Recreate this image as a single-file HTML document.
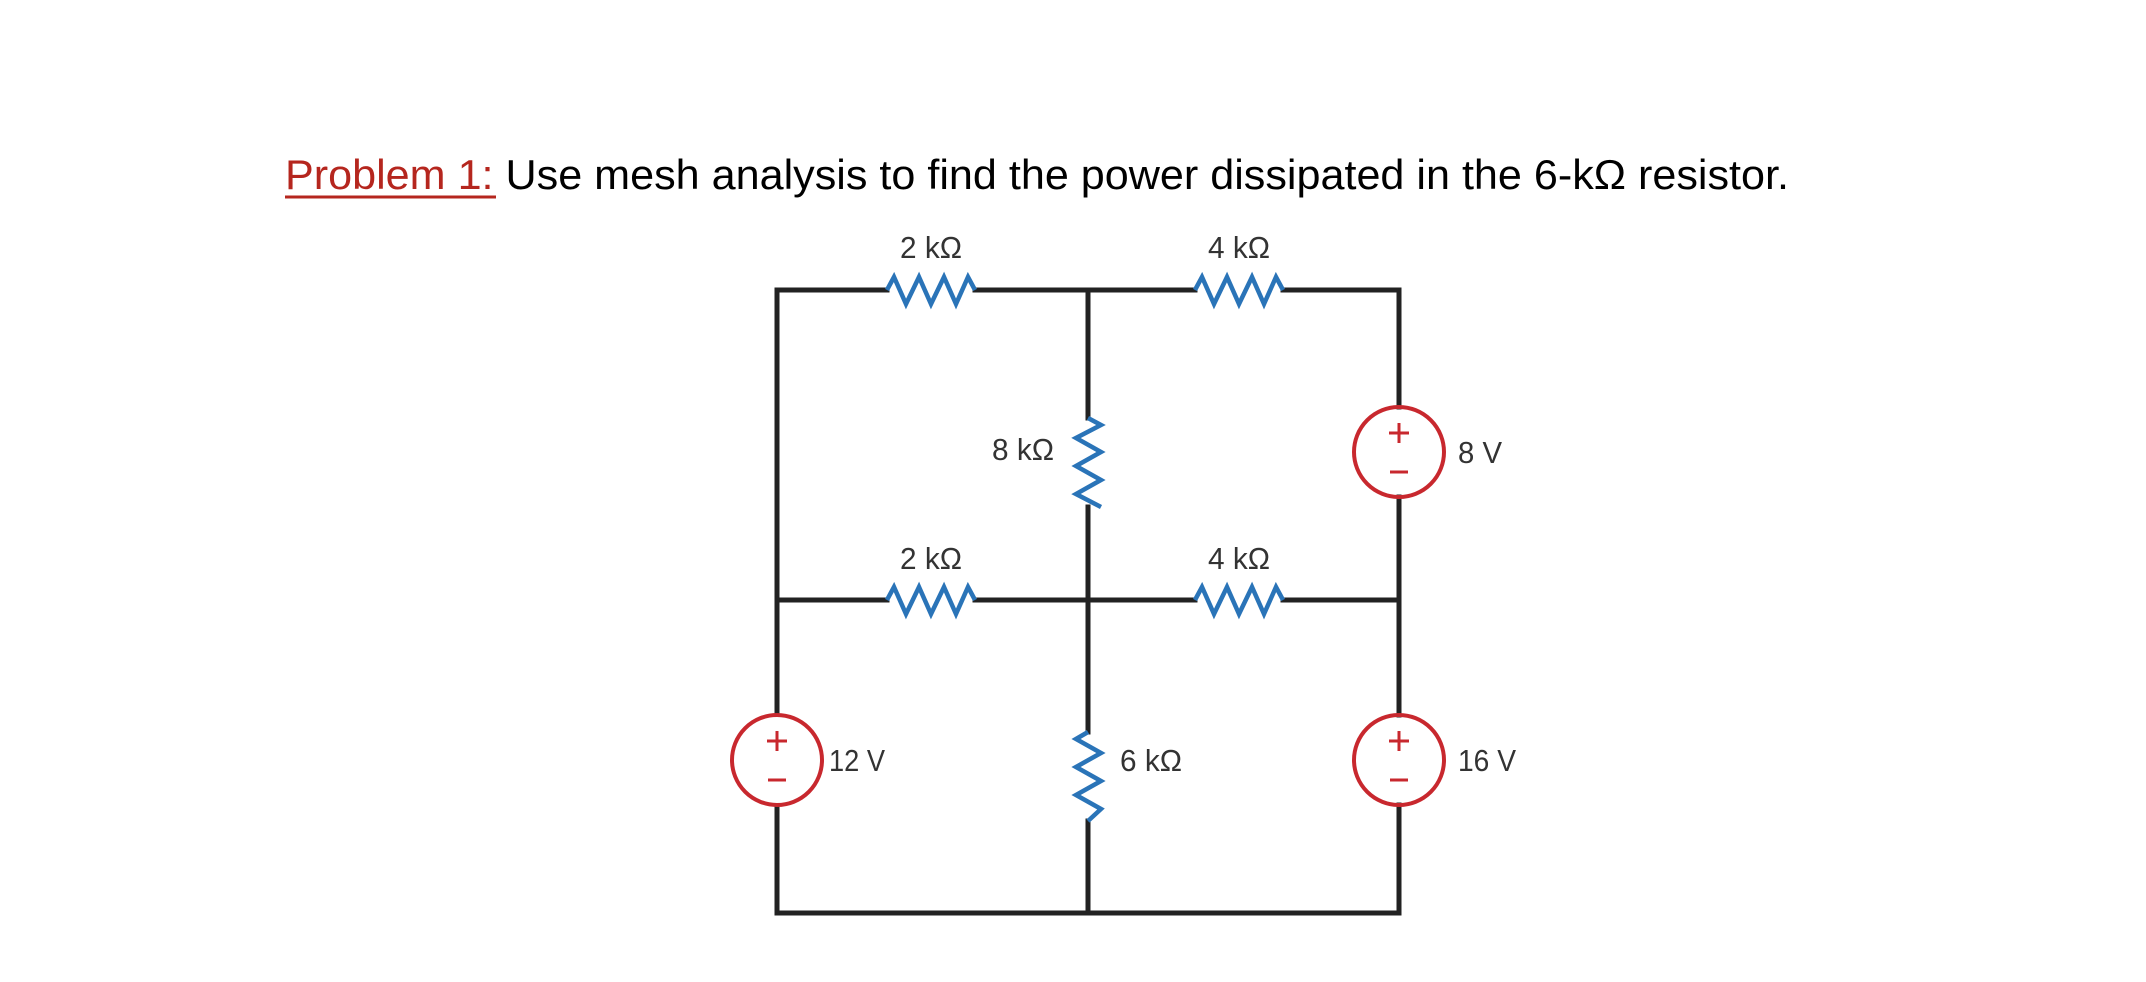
<!DOCTYPE html>
<html><head><meta charset="utf-8"><style>
html,body{margin:0;padding:0;background:#fff;}
svg{display:block}
</style></head><body>
<svg width="2146" height="982" viewBox="0 0 2146 982" xmlns="http://www.w3.org/2000/svg">
<rect width="2146" height="982" fill="#fff"/>
<text x="285" y="189" font-family="Liberation Sans, sans-serif" font-size="42" textLength="1504" lengthAdjust="spacingAndGlyphs"><tspan fill="#b5261e">Problem 1:</tspan><tspan fill="#000"> Use mesh analysis to find the power dissipated in the 6-kΩ resistor.</tspan></text>
<line x1="285" y1="197" x2="496" y2="197" stroke="#b5261e" stroke-width="3"/>

<g stroke="#222" stroke-width="5" fill="none" stroke-linecap="square">
<polyline points="777,913 777,290 887,290"/>
<line x1="975" y1="290" x2="1195" y2="290"/>
<polyline points="1283,290 1399,290 1399,407"/>
<line x1="1399" y1="497" x2="1399" y2="715"/>
<line x1="1399" y1="805" x2="1399" y2="913"/>
<line x1="777" y1="913" x2="1399" y2="913"/>
<line x1="1088" y1="290" x2="1088" y2="418"/>
<line x1="1088" y1="507" x2="1088" y2="732"/>
<line x1="1088" y1="821" x2="1088" y2="913"/>
<line x1="777" y1="600" x2="887" y2="600"/>
<line x1="975" y1="600" x2="1195" y2="600"/>
<line x1="1283" y1="600" x2="1399" y2="600"/>
</g>
<rect x="740" y="715" width="74" height="90" fill="#fff"/>

<g stroke="#2a74b8" stroke-width="4.5" fill="none" stroke-linejoin="miter">
<polyline points="887,290 894,277 906,304 919,277 931,304 944,277 956,304 968,277 975,290"/>
<polyline points="1195,290 1202,277 1214,304 1227,277 1239,304 1252,277 1264,304 1276,277 1283,290"/>
<polyline points="887,600 894,587 906,614 919,587 931,614 944,587 956,614 968,587 975,600"/>
<polyline points="1195,600 1202,587 1214,614 1227,587 1239,614 1252,587 1264,614 1276,587 1283,600"/>
<polyline points="1088,418 1101,425 1076,438 1101,452 1076,466 1101,480 1076,494 1101,507"/>
<polyline points="1088,732 1076,739 1101,753 1076,767 1101,781 1076,795 1101,809 1088,821"/>
</g>

<g stroke="#c8282e" stroke-width="4" fill="none">
<circle cx="1399" cy="452" r="45"/>
<circle cx="777" cy="760" r="45"/>
<circle cx="1399" cy="760" r="45"/>
</g>
<g stroke="#c8282e" stroke-width="3">
<line x1="1389" y1="433" x2="1409" y2="433"/><line x1="1399" y1="423" x2="1399" y2="443"/><line x1="1390" y1="472" x2="1408" y2="472"/>
<line x1="767" y1="741" x2="787" y2="741"/><line x1="777" y1="731" x2="777" y2="751"/><line x1="768" y1="780" x2="786" y2="780"/>
<line x1="1389" y1="741" x2="1409" y2="741"/><line x1="1399" y1="731" x2="1399" y2="751"/><line x1="1390" y1="780" x2="1408" y2="780"/>
</g>

<g font-family="Liberation Sans, sans-serif" font-size="31" fill="#333">
<text x="931" y="258" text-anchor="middle" textLength="62" lengthAdjust="spacingAndGlyphs">2 kΩ</text>
<text x="1239" y="258" text-anchor="middle" textLength="62" lengthAdjust="spacingAndGlyphs">4 kΩ</text>
<text x="931" y="569" text-anchor="middle" textLength="62" lengthAdjust="spacingAndGlyphs">2 kΩ</text>
<text x="1239" y="569" text-anchor="middle" textLength="62" lengthAdjust="spacingAndGlyphs">4 kΩ</text>
<text x="992" y="460" textLength="62" lengthAdjust="spacingAndGlyphs">8 kΩ</text>
<text x="1120" y="771" textLength="62" lengthAdjust="spacingAndGlyphs">6 kΩ</text>
<text x="1458" y="463" textLength="44" lengthAdjust="spacingAndGlyphs">8 V</text>
<text x="829" y="771" textLength="56" lengthAdjust="spacingAndGlyphs">12 V</text>
<text x="1458" y="771" textLength="58" lengthAdjust="spacingAndGlyphs">16 V</text>
</g>
</svg>
</body></html>
